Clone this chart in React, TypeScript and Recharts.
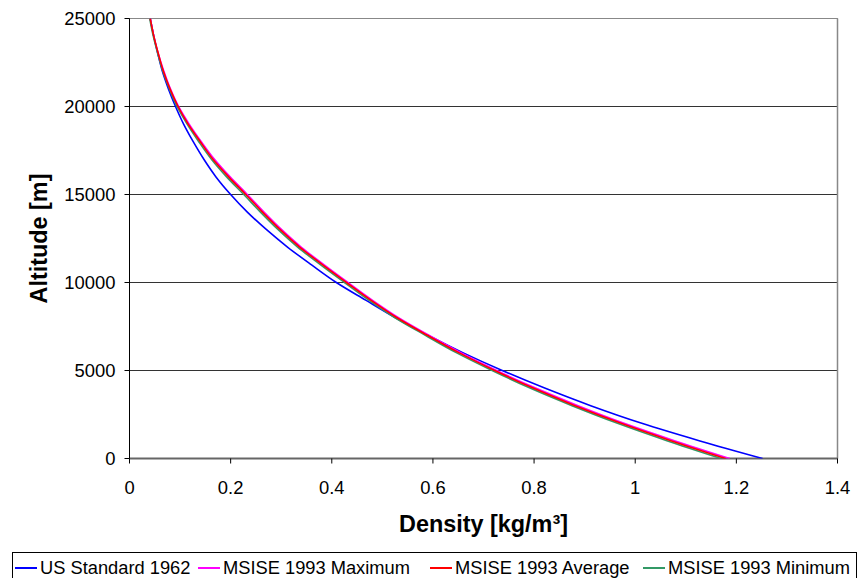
import React from "react";
import {
  ScatterChart,
  Scatter,
  XAxis,
  YAxis,
  CartesianGrid,
  ReferenceLine,
} from "recharts";

const altitudes = [
  0, 1000, 2000, 3000, 4000, 5000, 6000, 7000, 8000, 9000, 10000, 11000, 12000,
  13000, 14000, 15000, 16000, 17000, 18000, 19000, 20000, 21000, 22000, 23000,
  24000, 25000,
];

const usStandard1962 = [
  1.252, 1.128, 1.013, 0.912, 0.821, 0.737, 0.66, 0.59, 0.526, 0.467, 0.409,
  0.36, 0.313, 0.271, 0.233, 0.2, 0.171, 0.147, 0.126, 0.107, 0.091, 0.077,
  0.065, 0.056, 0.048, 0.041,
];

const msiseMaximum = [
  1.187, 1.079, 0.978, 0.887, 0.803, 0.726, 0.656, 0.592, 0.532, 0.48, 0.432,
  0.385, 0.34, 0.301, 0.266, 0.233, 0.199, 0.168, 0.142, 0.118, 0.097, 0.081,
  0.068, 0.057, 0.048, 0.041,
];

const msiseAverage = [
  1.179, 1.072, 0.972, 0.881, 0.798, 0.722, 0.652, 0.589, 0.529, 0.477, 0.429,
  0.382, 0.337, 0.298, 0.263, 0.23, 0.196, 0.165, 0.14, 0.116, 0.096, 0.08,
  0.067, 0.057, 0.048, 0.041,
];

const msiseMinimum = [
  1.17, 1.064, 0.965, 0.875, 0.792, 0.717, 0.647, 0.585, 0.525, 0.473, 0.425,
  0.378, 0.333, 0.294, 0.259, 0.226, 0.192, 0.162, 0.137, 0.114, 0.094, 0.079,
  0.066, 0.056, 0.047, 0.04,
];

const xTicks = [0, 0.2, 0.4, 0.6, 0.8, 1, 1.2, 1.4];
const yTicks = [0, 5000, 10000, 15000, 20000, 25000];

const seriesNames = [
  "US Standard 1962",
  "MSISE 1993 Maximum",
  "MSISE 1993 Average",
  "MSISE 1993 Minimum",
];
const seriesColors = ["#0000FF", "#FF00FF", "#FF0000", "#339966"];
const seriesValues = [usStandard1962, msiseMaximum, msiseAverage, msiseMinimum];

const toPoints = (vals: number[]) =>
  altitudes.map((alt, i) => ({ alt, rho: vals[i] }));

const FONT = '"Liberation Sans", Arial, Helvetica, sans-serif';
const NoShape = () => <g />;

const drawOrder = [0, 1, 3, 2];
const legendTextStarts = [40, 223, 455, 668];

export default function App() {
  return (
    <div
      style={{
        position: "absolute",
        left: 0,
        top: 0,
        width: 862,
        height: 578,
        background: "#fff",
        overflow: "hidden",
        fontFamily: FONT,
      }}
    >
      <ScatterChart
        width={862}
        height={578}
        margin={{ top: 18.5, right: 24.5, left: 0.5, bottom: 0 }}
      >
        <CartesianGrid vertical={false} stroke="#333" strokeWidth={1} />
        <XAxis
          type="number"
          dataKey="rho"
          domain={[0, 1.4]}
          ticks={xTicks}
          interval={0}
          height={119.5}
          allowDataOverflow
          tickFormatter={(v: number) => String(Math.round(v * 10) / 10)}
          tick={{ fill: "#000", fontSize: 18.4, fontFamily: FONT }}
          tickSize={5}
          tickMargin={17}
          tickLine={{ stroke: "#000" }}
          axisLine={{ stroke: "#666", strokeWidth: 2 }}
          label={{
            value: "Density [kg/m³]",
            position: "insideTop",
            offset: 57,
            fill: "#000",
            fontSize: 23.4,
            fontWeight: "bold",
            fontFamily: FONT,
          }}
        />
        <YAxis
          type="number"
          dataKey="alt"
          domain={[0, 25000]}
          ticks={yTicks}
          interval={0}
          width={129}
          allowDataOverflow
          tick={{ fill: "#000", fontSize: 18.4, fontFamily: FONT }}
          tickSize={5}
          tickMargin={9}
          tickLine={{ stroke: "#000" }}
          axisLine={{ stroke: "#000" }}
          label={{
            value: "Altitude [m]",
            angle: -90,
            position: "center",
            dx: -26.5,
            fill: "#000",
            fontSize: 23.4,
            fontWeight: "bold",
            fontFamily: FONT,
          }}
        />
        <ReferenceLine y={25000} stroke="#888" strokeWidth={1} />
        <ReferenceLine x={1.4} stroke="#888" strokeWidth={1.5} />
        {drawOrder.map((idx) => (
          <Scatter
            key={seriesNames[idx]}
            name={seriesNames[idx]}
            data={toPoints(seriesValues[idx])}
            line={{ stroke: seriesColors[idx], strokeWidth: 1.6 }}
            lineType="joint"
            lineJointType="monotoneY"
            shape={<NoShape />}
            isAnimationActive={false}
          />
        ))}
      </ScatterChart>
      <div
        style={{
          position: "absolute",
          left: 12,
          top: 552,
          width: 845,
          height: 40,
          border: "1px solid #000",
          boxSizing: "border-box",
        }}
      >
        {seriesNames.map((name, i) => (
          <div
            key={name}
            style={{
              position: "absolute",
              left: legendTextStarts[i] - 12 - 26,
              top: 4,
              display: "flex",
              alignItems: "center",
              whiteSpace: "nowrap",
              fontSize: 18.3,
              lineHeight: "21px",
              color: "#000",
            }}
          >
            <span
              style={{
                display: "inline-block",
                width: 22,
                height: 2,
                background: seriesColors[i],
                marginRight: 3,
              }}
            />
            <span>{name}</span>
          </div>
        ))}
      </div>
    </div>
  );
}
